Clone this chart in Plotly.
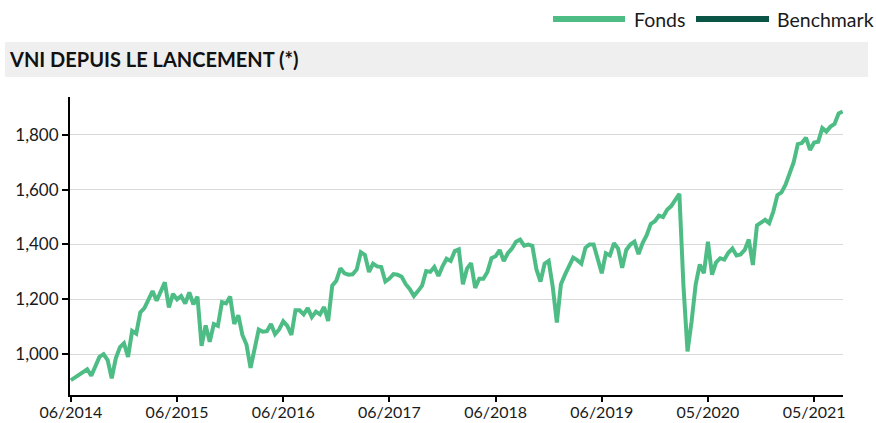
import pandas as pd
import plotly.graph_objects as go

# ---- data (bi-weekly NAV points) ----
start_date = "2014-06-07"
fonds_values = [
    905, 915, 928, 935, 945, 921, 955, 990, 1000, 978,
    912, 985, 1025, 1040, 990, 1085, 1075, 1152, 1168, 1198,
    1230, 1195, 1230, 1262, 1170, 1220, 1200, 1212, 1185, 1225,
    1182, 1210, 1030, 1105, 1045, 1110, 1103, 1190, 1185, 1210,
    1110, 1142, 1070, 1035, 950, 1024, 1090, 1082, 1084, 1110,
    1073, 1090, 1120, 1103, 1070, 1160, 1160, 1145, 1168, 1135,
    1155, 1145, 1172, 1121, 1250, 1268, 1313, 1295, 1290, 1291,
    1309, 1372, 1362, 1300, 1330, 1320, 1318, 1265, 1276, 1292,
    1290, 1282, 1255, 1237, 1212, 1230, 1250, 1303, 1300, 1318,
    1285, 1320, 1348, 1340, 1376, 1382, 1255, 1312, 1332, 1242,
    1275, 1275, 1300, 1350, 1357, 1380, 1340, 1368, 1385, 1410,
    1418, 1396, 1400, 1395, 1309, 1265, 1330, 1340, 1245, 1115,
    1255, 1290, 1325, 1352, 1343, 1330, 1388, 1400, 1400, 1340,
    1295, 1368, 1360, 1405, 1385, 1315, 1380, 1400, 1410, 1365,
    1405, 1434, 1475, 1485, 1505, 1500, 1527, 1540, 1565, 1585,
    1250, 1010, 1120, 1255, 1327, 1295, 1410, 1290, 1335, 1350,
    1345, 1370, 1385, 1360, 1364, 1380, 1418, 1325, 1470, 1479,
    1490, 1478, 1520, 1580, 1590, 1618, 1660, 1700, 1766, 1770,
    1790, 1745, 1772, 1775, 1825, 1812, 1830, 1840, 1878, 1885,
]
benchmark_values = [None]  # no benchmark line is drawn in the reference, only its legend entry
series_names = ["Fonds", "Benchmark"]

tick_dates = ["2014-06-07", "2015-06-06", "2016-06-04", "2017-06-03",
              "2018-06-02", "2019-06-01", "2020-05-30", "2021-05-29"]
y_ticks = [1000, 1200, 1400, 1600, 1800]

dates = pd.date_range(start_date, periods=len(fonds_values), freq="14D")

FONDS_COLOR = "#4dbd85"
BENCH_COLOR = "#0b5546"
FONT = "Lato"

fig = go.Figure()
fig.add_trace(go.Scatter(
    x=dates, y=fonds_values, mode="lines", name=series_names[0],
    line=dict(color=FONDS_COLOR, width=4), showlegend=False,
))
fig.add_trace(go.Scatter(
    x=dates[:len(benchmark_values)], y=benchmark_values, mode="lines", name=series_names[1],
    line=dict(color=BENCH_COLOR, width=4), showlegend=False,
))

W, H = 876, 423
L, R, T, B = 70, 33, 97, 28
pw = W - L - R
ph = H - T - B

def px_x(p):
    return (p - L) / pw

def px_y(p):
    return (H - B - p) / ph

shapes = [dict(
    type="rect", xref="paper", yref="paper", layer="below",
    x0=px_x(5), x1=px_x(868), y0=px_y(77), y1=px_y(42),
    fillcolor="#efefef", line=dict(width=0),
)]
annotations = []
# legend (wide swatches as in the reference)
legend_items = [(series_names[0], FONDS_COLOR, 553, 625, 632),
                (series_names[1], BENCH_COLOR, 696, 769, 775)]
for name, col, s0, s1, tx in legend_items:
    shapes.append(dict(type="line", xref="paper", yref="paper",
                       x0=px_x(s0), x1=px_x(s1), y0=px_y(19), y1=px_y(19),
                       line=dict(color=col, width=6)))
    annotations.append(dict(text=name, xref="paper", yref="paper",
                            x=px_x(tx), y=px_y(19), xanchor="left", yanchor="middle",
                            showarrow=False,
                            font=dict(family=FONT, size=19.5, color="#1a1a1a")))

fig.update_layout(
    width=W, height=H,
    margin=dict(l=L, r=R, t=T, b=B, autoexpand=False),
    paper_bgcolor="white", plot_bgcolor="white",
    font=dict(family=FONT, size=16, color="#1a1a1a"),
    title=dict(
        text="<b>VNI DEPUIS LE LANCEMENT (*)</b>",
        x=10 / W, xanchor="left", xref="container",
        y=1 - 60 / H, yanchor="middle", yref="container",
        font=dict(family=FONT, size=20, color="#111111"),
    ),
    showlegend=False,
    shapes=shapes,
    annotations=annotations,
)

fig.update_xaxes(
    range=["2014-06-04", "2021-09-05"],
    tickvals=tick_dates, tickformat="%m/%Y",
    showline=True, linecolor="black", linewidth=2,
    ticks="outside", ticklen=5, tickwidth=2, tickcolor="black",
    ticklabelstandoff=-3,
    showgrid=False, zeroline=False, automargin=False,
    tickfont=dict(family=FONT, size=16, color="#1a1a1a"),
)
fig.update_yaxes(
    range=[851, 1938],
    tickvals=y_ticks, tickformat=",",
    showline=True, linecolor="black", linewidth=2,
    ticks="outside", ticklen=6, tickwidth=2, tickcolor="black",
    showgrid=True, gridcolor="#d9d9d9", gridwidth=1,
    zeroline=False, automargin=False,
    tickfont=dict(family=FONT, size=17, color="#1a1a1a"),
)

fig.write_html("out.html")
